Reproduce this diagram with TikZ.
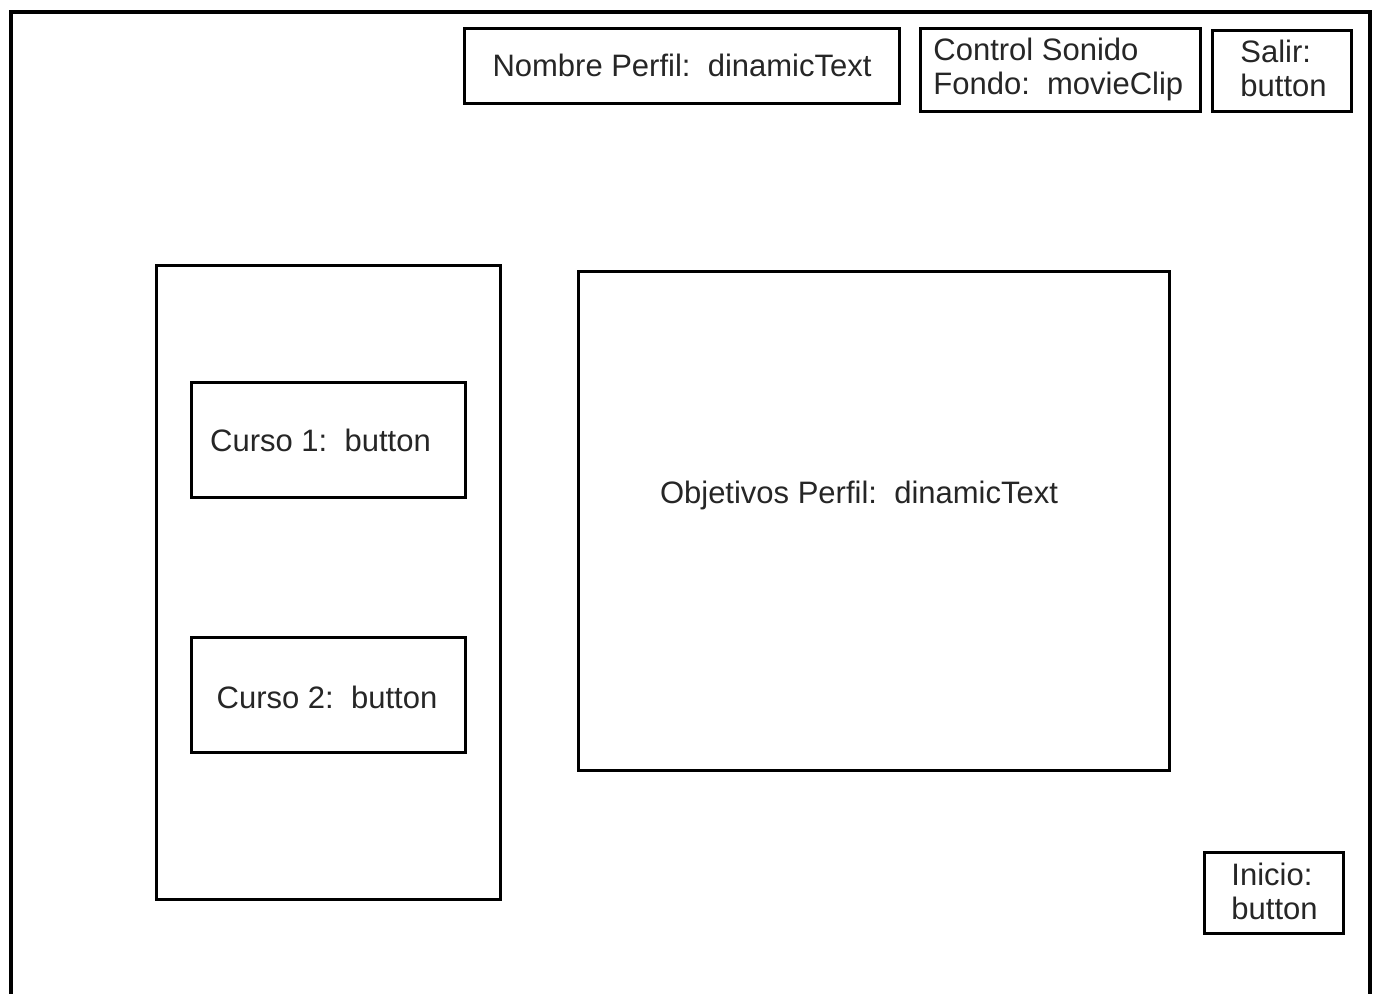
\documentclass[tikz,border=0pt]{standalone}
\usepackage{fontspec}
\setmainfont{Liberation Sans}
\begin{document}
\begin{tikzpicture}[x=0.5pt,y=-0.5pt,
  box/.style={draw=black,line width=1.5pt,rectangle,inner sep=0pt,fill=none},
  lbl/.style={inner sep=0pt,font=\fontsize{15.5}{17}\selectfont,text=black!85},
  lbll/.style={lbl,align=left,anchor=west}]
\useasboundingbox (0,0) rectangle (1377,993);
\fill[white] (0,0) rectangle (1377,993);
\clip (0,0) rectangle (1377,993);
% outer frame (open at bottom)
\coordinate (fbl) at (10.5,1010);
\coordinate (ftl) at (10.5,11.5);
\coordinate (ftr) at (1370,11.5);
\coordinate (fbr) at (1370,1010);
\draw[line width=2pt] (fbl) -- (ftl) -- (ftr) -- (fbr);
% boxes
\node[box,minimum width=217.5pt,minimum height=37.5pt] (nombre) at (681.5,65.5) {};
\node[box,minimum width=140pt,minimum height=41.5pt] (control) at (1060,69.5) {};
\node[box,minimum width=69.5pt,minimum height=40.5pt] (salir) at (1281.5,70.5) {};
\node[box,minimum width=172pt,minimum height=317pt] (panel) at (328,582) {};
\node[box,minimum width=137pt,minimum height=57.5pt] (curso1) at (328,439.5) {};
\node[box,minimum width=137pt,minimum height=57.5pt] (curso2) at (328,694.5) {};
\node[box,minimum width=295.5pt,minimum height=249.5pt] (objetivos) at (873.5,520.5) {};
\node[box,minimum width=69.5pt,minimum height=40.5pt] (inicio) at (1273.5,892.5) {};
% texts
\node[lbl] (tnombre) at (682,65) {Nombre Perfil:\ \ dinamicText};
\node[lbll] (tcontrol) at (933,69) {Control Sonido\\Fondo:\ \ movieClip};
\node[lbll] (tsalir) at (1240,68) {Salir:\\button};
\node[lbl] (tcurso1) at (320.5,440) {Curso 1:\ \ button};
\node[lbl] (tcurso2) at (327,697) {Curso 2:\ \ button};
\node[lbl] (tobj) at (859,495) {Objetivos Perfil:\ \ dinamicText};
\node[lbll] (tinicio) at (1231,891) {Inicio:\\button};
\end{tikzpicture}
\end{document}
